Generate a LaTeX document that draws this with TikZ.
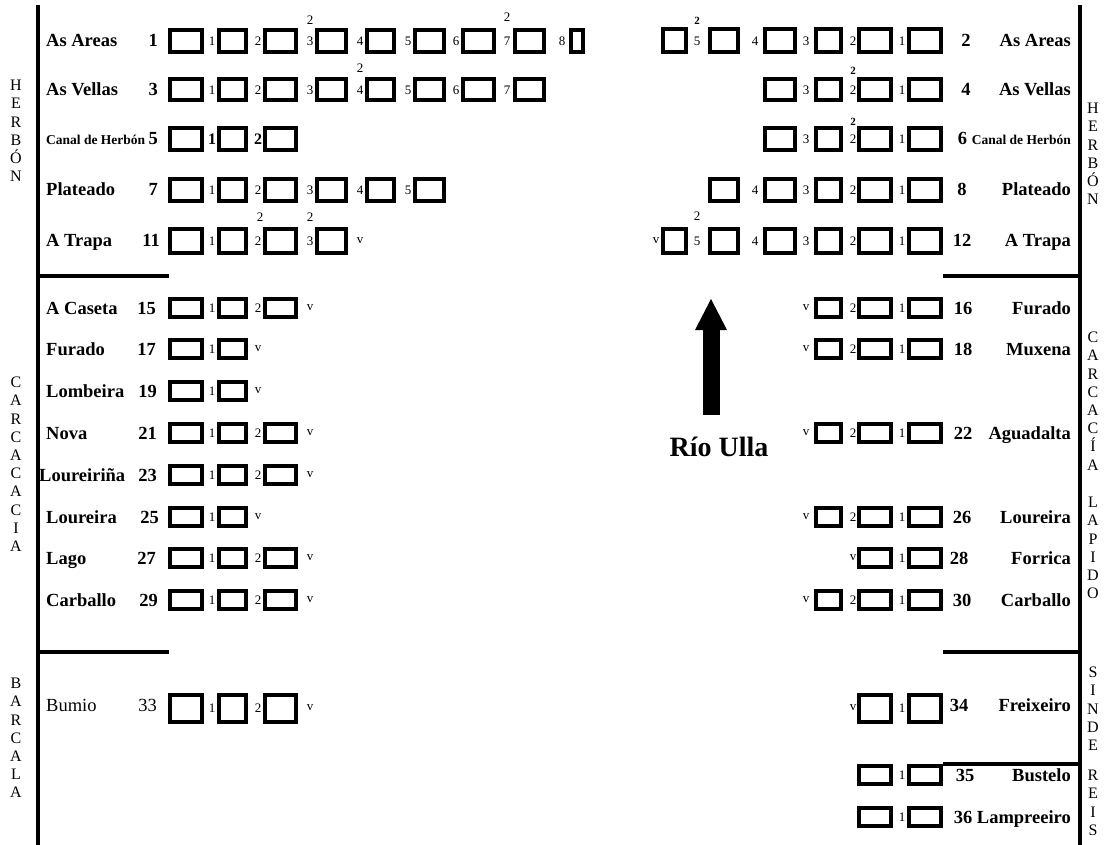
\documentclass[tikz,border=0pt]{standalone}
\usepackage{fontspec}
\setmainfont{Liberation Serif}

% fila de caixas pola esquerda: [estilo números]{prefixo}{y}{altura}{caixas}{remate}
\newcommand{\filaE}[6][peq]{%
  \foreach \i in {1,...,#5} {
    \pgfmathsetmacro\caixax{{186,232.5,280.5,331.5,380.5,429.5,478.5,529.5,577}[\i-1]}
    \pgfmathsetmacro\caixaw{{36,31,35,33,31,33,35,33,16}[\i-1]-4}
    \node[caixa, minimum width=\caixaw pt, minimum height=#4pt-4pt] (#2-c\i) at (\caixax,#3) {};
  }
  \pgfmathtruncatemacro\ultima{#5-1}
  \foreach \i in {1,...,\ultima} {
    \pgfmathsetmacro\ocox{{212,258,310,360,408,456,507,562}[\i-1]}
    \node[#1] (#2-n\i) at (\ocox,#3) {\i};
  }
  \def\remate{#6}%
  \ifx\remate\empty\else
    \pgfmathsetmacro\ocox{{212,258,310,360,408,456,507,562}[#5-1]}
    \node[peq] (#2-v) at (\ocox,#3) {#6};
  \fi
}
% fila de caixas pola dereita (contan desde a beira)
\newcommand{\filaD}[6][peq]{%
  \foreach \i in {1,...,#5} {
    \pgfmathsetmacro\caixax{{925,875,828.5,780,724,674}[\i-1]}
    \pgfmathsetmacro\caixaw{{36,36,29,34,32,27}[\i-1]-4}
    \node[caixa, minimum width=\caixaw pt, minimum height=#4pt-4pt] (#2-c\i) at (\caixax,#3) {};
  }
  \pgfmathtruncatemacro\ultima{#5-1}
  \foreach \i in {1,...,\ultima} {
    \pgfmathsetmacro\ocox{{902,853,806,755,697,656}[\i-1]}
    \node[#1] (#2-n\i) at (\ocox,#3) {\i};
  }
  \def\remate{#6}%
  \ifx\remate\empty\else
    \pgfmathsetmacro\ocox{{902,853,806,755,697,656}[#5-1]}
    \node[peq] (#2-v) at (\ocox,#3) {#6};
  \fi
}

\begin{document}
\begin{tikzpicture}[x=1pt, y=-1pt]
  \tikzstyle{caixa} = [draw, line width=4pt, inner sep=0pt]
  \tikzstyle{nome} = [font=\fontsize{18.5}{20}\selectfont\bfseries, inner sep=0pt]
  \tikzstyle{canal} = [font=\fontsize{13.5}{15}\selectfont\bfseries, inner sep=0pt]
  \tikzstyle{peq} = [font=\fontsize{13}{14}\selectfont, inner sep=0pt]
  \tikzstyle{peqb} = [font=\fontsize{16}{18}\selectfont\bfseries, inner sep=0pt]
  \tikzstyle{expob} = [font=\fontsize{11}{12}\selectfont\bfseries, inner sep=0pt]
  \tikzstyle{lado} = [font=\fontsize{16}{18.2}\selectfont, align=center, inner sep=0pt, anchor=north]
  \tikzstyle{raia} = [line width=3.6pt]

  \useasboundingbox (0,0) rectangle (1106,845);

  % marco e separacións
  \coordinate (marcoE) at (38,5);
  \coordinate (marcoD) at (1080,5);
  \draw[raia] (marcoE) -- (38,845);
  \draw[raia] (marcoD) -- (1080,845);
  \draw[raia] (38,276) -- (169,276);
  \draw[raia] (38,652) -- (169,652);
  \draw[raia] (943,276) -- (1080,276);
  \draw[raia] (943,652) -- (1080,652);
  \draw[raia] (943,764) -- (1080,764);

  % parroquias
  \node[lado] (herbonE) at (16,80) {H\\E\\R\\B\\Ó\\N};
  \node[lado] (carcaciaE) at (16,377) {C\\A\\R\\C\\A\\C\\A\\C\\I\\A};
  \node[lado] (barcala) at (16,678) {B\\A\\R\\C\\A\\L\\A};
  \node[lado] (herbonD) at (1093,103) {H\\E\\R\\B\\Ó\\N};
  \node[lado] (carcaciaD) at (1093,332) {C\\A\\R\\C\\A\\C\\Í\\A};
  \node[lado] (lapido) at (1093,497) {L\\A\\P\\I\\D\\O};
  \node[lado] (sinde) at (1093,667) {S\\I\\N\\D\\E};
  \node[lado] (reis) at (1093,770) {R\\E\\I\\S};

  % río
  \fill (702.5,415) rectangle (719.5,328);
  \fill (695,330) -- (727,330) -- (711,299) -- cycle;
  \node[nome, font=\fontsize{28}{30}\selectfont\bfseries, anchor=base] (ulla) at (719,456) {Río Ulla};

  % marxe esquerda
  \node[nome, anchor=base west] (eA-t) at (46,47) {As Areas};
  \node[nome, anchor=base east] (eA-k) at (158,47) {1};
  \filaE{eA}{41}{26}{9}{}
  \node[peq] (eA-s1) at (310,20) {2};
  \node[peq] (eA-s2) at (507,17) {2};

  \node[nome, anchor=base west] (eV-t) at (46,96) {As Vellas};
  \node[nome, anchor=base east] (eV-k) at (158,96) {3};
  \filaE{eV}{90}{25}{8}{}
  \node[peq] (eV-s1) at (360,68) {2};

  \node[canal, anchor=base west] (eC-t) at (46,145) {Canal de Herbón};
  \node[nome, anchor=base east] (eC-k) at (158,145) {5};
  \filaE[peqb]{eC}{139}{26}{3}{}

  \node[nome, anchor=base west] (eP-t) at (46,196) {Plateado};
  \node[nome, anchor=base east] (eP-k) at (158,196) {7};
  \filaE{eP}{190}{26}{6}{}

  \node[nome, anchor=base west] (eT-t) at (46,247) {A Trapa};
  \node[nome, anchor=base east] (eT-k) at (160,247) {11};
  \filaE{eT}{241}{28}{4}{v}
  \node[peq] (eT-s1) at (260,217) {2};
  \node[peq] (eT-s2) at (310,217) {2};

  \node[nome, anchor=base west] (eCa-t) at (46,314) {A Caseta};
  \node[nome, anchor=base east] (eCa-k) at (156,314) {15};
  \filaE{eCa}{308}{22}{3}{v}

  \node[nome, anchor=base west] (eF-t) at (46,355) {Furado};
  \node[nome, anchor=base east] (eF-k) at (156,355) {17};
  \filaE{eF}{349}{22}{2}{v}

  \node[nome, anchor=base west] (eLo-t) at (46,397) {Lombeira};
  \node[nome, anchor=base east] (eLo-k) at (157,397) {19};
  \filaE{eLo}{391}{22}{2}{v}

  \node[nome, anchor=base west] (eN-t) at (46,439) {Nova};
  \node[nome, anchor=base east] (eN-k) at (157,439) {21};
  \filaE{eN}{433}{22}{3}{v}

  \node[nome, anchor=base west] (eLr-t) at (39,481) {Loureiriña};
  \node[nome, anchor=base east] (eLr-k) at (157,481) {23};
  \filaE{eLr}{475}{22}{3}{v}

  \node[nome, anchor=base west] (eL-t) at (46,523) {Loureira};
  \node[nome, anchor=base east] (eL-k) at (159,523) {25};
  \filaE{eL}{517}{22}{2}{v}

  \node[nome, anchor=base west] (eLg-t) at (46,564) {Lago};
  \node[nome, anchor=base east] (eLg-k) at (156,564) {27};
  \filaE{eLg}{558}{22}{3}{v}

  \node[nome, anchor=base west] (eCb-t) at (46,606) {Carballo};
  \node[nome, anchor=base east] (eCb-k) at (158,606) {29};
  \filaE{eCb}{600}{22}{3}{v}

  \node[nome, font=\fontsize{18.5}{20}\selectfont, anchor=base west] (eB-t) at (46,711) {Bumio};
  \node[nome, font=\fontsize{18.5}{20}\selectfont, anchor=base east] (eB-k) at (157,711) {33};
  \filaE{eB}{708}{31}{3}{v}

  % marxe dereita
  \node[nome, anchor=base east] (dA-t) at (1071,47) {As Areas};
  \node[nome, anchor=base] (dA-k) at (966,47) {2};
  \filaD{dA}{41}{27}{6}{}
  \node[expob] (dA-s1) at (697,21) {2};

  \node[nome, anchor=base east] (dV-t) at (1071,96) {As Vellas};
  \node[nome, anchor=base] (dV-k) at (966,96) {4};
  \filaD{dV}{90}{25}{4}{}
  \node[expob] (dV-s1) at (853,71) {2};

  \node[nome, anchor=base east] (dC-t) at (1071,145) {6 \fontsize{13.5}{15}\selectfont Canal de Herbón};
  \filaD{dC}{139}{26}{4}{}
  \node[expob] (dC-s1) at (853,122) {2};

  \node[nome, anchor=base east] (dP-t) at (1071,196) {Plateado};
  \node[nome, anchor=base] (dP-k) at (962,196) {8};
  \filaD{dP}{190}{26}{5}{}

  \node[nome, anchor=base east] (dT-t) at (1071,247) {A Trapa};
  \node[nome, anchor=base] (dT-k) at (962,247) {12};
  \filaD{dT}{241}{28}{6}{v}
  \node[peq] (dT-s1) at (697,216) {2};

  \node[nome, anchor=base east] (dF-t) at (1071,314) {Furado};
  \node[nome, anchor=base] (dF-k) at (963,314) {16};
  \filaD{dF}{308}{22}{3}{v}

  \node[nome, anchor=base east] (dM-t) at (1071,355) {Muxena};
  \node[nome, anchor=base] (dM-k) at (963,355) {18};
  \filaD{dM}{349}{22}{3}{v}

  \node[nome, anchor=base east] (dAg-t) at (1071,439) {Aguadalta};
  \node[nome, anchor=base] (dAg-k) at (963,439) {22};
  \filaD{dAg}{433}{22}{3}{v}

  \node[nome, anchor=base east] (dL-t) at (1071,523) {Loureira};
  \node[nome, anchor=base] (dL-k) at (962,523) {26};
  \filaD{dL}{517}{22}{3}{v}

  \node[nome, anchor=base east] (dFo-t) at (1071,564) {Forrica};
  \node[nome, anchor=base] (dFo-k) at (959,564) {28};
  \filaD{dFo}{558}{22}{2}{v}

  \node[nome, anchor=base east] (dCb-t) at (1071,606) {Carballo};
  \node[nome, anchor=base] (dCb-k) at (962,606) {30};
  \filaD{dCb}{600}{22}{3}{v}

  \node[nome, anchor=base east] (dFr-t) at (1071,711) {Freixeiro};
  \node[nome, anchor=base] (dFr-k) at (959,711) {34};
  \filaD{dFr}{708}{31}{2}{v}

  \node[nome, anchor=base east] (dBu-t) at (1071,781) {Bustelo};
  \node[nome, anchor=base] (dBu-k) at (965,781) {35};
  \filaD{dBu}{775}{22}{2}{}

  \node[nome, anchor=base east] (dLa-t) at (1071,823) {36 Lampreeiro};
  \filaD{dLa}{817}{22}{2}{}
\end{tikzpicture}
\end{document}
